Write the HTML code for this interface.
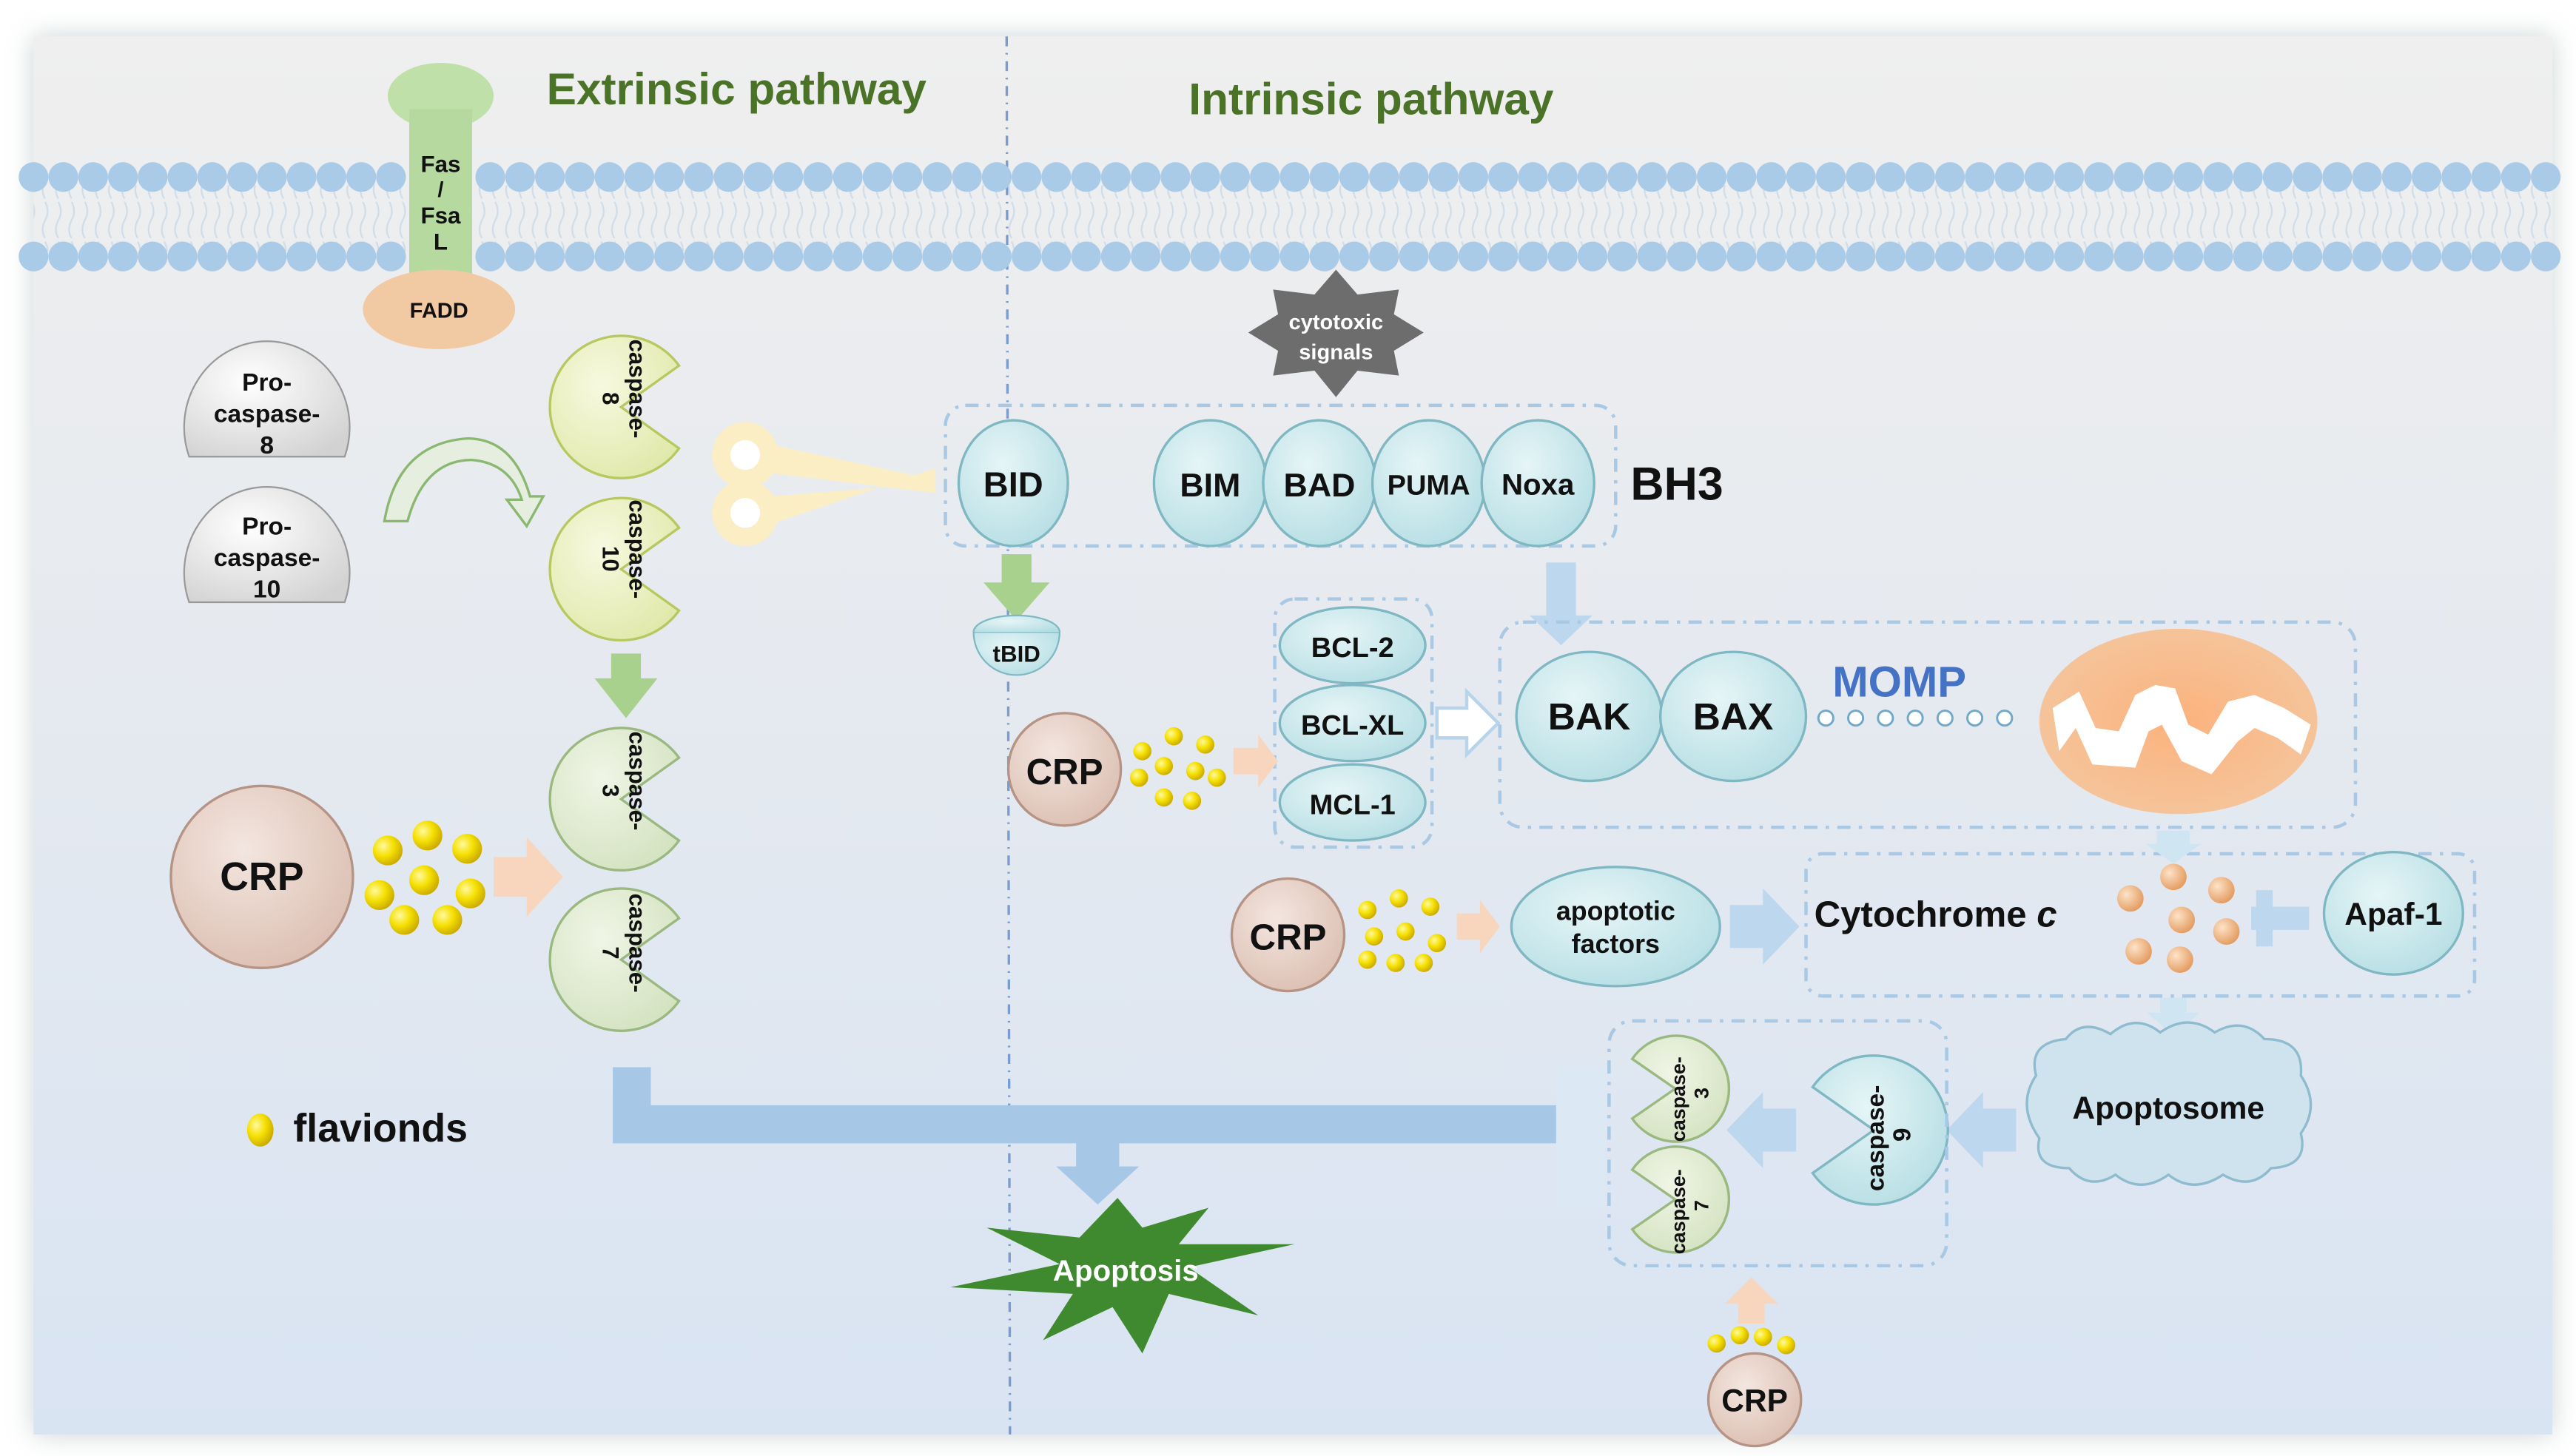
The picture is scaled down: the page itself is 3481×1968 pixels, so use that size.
<!DOCTYPE html>
<html><head><meta charset="utf-8"><style>
html,body{margin:0;padding:0;background:#fff;}
svg{display:block;}
text{font-family:"Liberation Sans",Arial,sans-serif;font-weight:bold;fill:#111;}
</style></head><body>
<svg width="3481" height="1968" viewBox="0 0 1556 880" xmlns="http://www.w3.org/2000/svg">
<defs>
<linearGradient id="bg" x1="0" y1="0" x2="0" y2="1"><stop offset="0" stop-color="#efefef"/><stop offset="0.35" stop-color="#e8ebef"/><stop offset="1" stop-color="#d9e4f3"/></linearGradient>
<filter id="sh" x="-5%" y="-5%" width="110%" height="110%"><feGaussianBlur stdDeviation="8"/></filter>
<radialGradient id="crp" cx="0.4" cy="0.35" r="0.7"><stop offset="0" stop-color="#f3e6e0"/><stop offset="1" stop-color="#dcbfb2"/></radialGradient>
<radialGradient id="yd" cx="0.35" cy="0.35" r="0.7"><stop offset="0" stop-color="#fff9a0"/><stop offset="0.5" stop-color="#f5e000"/><stop offset="1" stop-color="#c9a800"/></radialGradient>
<radialGradient id="od" cx="0.35" cy="0.35" r="0.7"><stop offset="0" stop-color="#fde3c8"/><stop offset="1" stop-color="#e39a5e"/></radialGradient>
<radialGradient id="tl" cx="0.4" cy="0.35" r="0.75"><stop offset="0" stop-color="#e6f5f7"/><stop offset="1" stop-color="#b3dde3"/></radialGradient>
<radialGradient id="mito" cx="0.5" cy="0.5" r="0.6"><stop offset="0" stop-color="#fbb27c"/><stop offset="1" stop-color="#f4c7a0"/></radialGradient>
<radialGradient id="gr" cx="0.4" cy="0.35" r="0.75"><stop offset="0" stop-color="#ffffff"/><stop offset="1" stop-color="#d2d2d2"/></radialGradient>
<radialGradient id="yg" cx="0.4" cy="0.35" r="0.75"><stop offset="0" stop-color="#f7f9e0"/><stop offset="1" stop-color="#dfe8a8"/></radialGradient>
<radialGradient id="lg" cx="0.4" cy="0.35" r="0.75"><stop offset="0" stop-color="#f0f5e6"/><stop offset="1" stop-color="#d2e2bf"/></radialGradient>
<pattern id="lip" width="8" height="48" patternUnits="userSpaceOnUse"><path d="M3 2 q3 6 0 11 q-3 6 0 11 M3 26 q3 6 0 11 q-3 6 0 11" stroke="#d0dde9" stroke-width="1" fill="none"/></pattern>
</defs>
<rect width="1556" height="880" fill="#fff"/>
<rect x="20" y="22" width="1522" height="845" fill="#9aa" opacity="0.5" filter="url(#sh)"/>
<rect x="20" y="22" width="1522" height="845" fill="url(#bg)"/>
<rect x="20" y="112" width="1522" height="40" fill="url(#lip)"/>
<text x="330" y="63" font-size="27" style="fill:#4b7328">Extrinsic pathway</text>
<text x="718" y="69" font-size="27" style="fill:#4b7328">Intrinsic pathway</text>
<line x1="608" y1="22" x2="610" y2="867" stroke="#7a9ccf" stroke-width="1.5" stroke-dasharray="6,4,1,4"/>
<ellipse cx="266" cy="58" rx="32" ry="20" fill="#bfe0a8"/>
<!-- procaspases -->
<path d="M114,276 A50 52 0 1 1 208,276 Z" fill="url(#gr)" stroke="#999"/>
<text x="161" y="236" font-size="15" text-anchor="middle">Pro-</text>
<text x="161" y="255" font-size="15" text-anchor="middle">caspase-</text>
<text x="161" y="274" font-size="15" text-anchor="middle">8</text>
<path d="M114,364 A50 52 0 1 1 208,364 Z" fill="url(#gr)" stroke="#999"/>
<text x="161" y="323" font-size="15" text-anchor="middle">Pro-</text>
<text x="161" y="342" font-size="15" text-anchor="middle">caspase-</text>
<text x="161" y="361" font-size="15" text-anchor="middle">10</text>
<path d="M232,315 L246,315 Q256,278 285,278 Q308,280 315,302 L306,302 L318,318 L328,300 L320,300 Q310,265 282,265 Q240,268 232,315 Z" fill="#e6eee0" stroke="#8ab870" stroke-width="1.5"/>
<g stroke="#b8c860" stroke-width="1.5">
<path d="M375,246 L410,221 A43 43 0 1 0 410,271 Z" fill="url(#yg)"/>
<path d="M375,344 L410,319 A43 43 0 1 0 410,369 Z" fill="url(#yg)"/>
</g>
<g stroke="#9ab880" stroke-width="1.5">
<path d="M375,483 L410,458 A43 43 0 1 0 410,508 Z" fill="url(#lg)"/>
<path d="M375,580 L410,555 A43 43 0 1 0 410,605 Z" fill="url(#lg)"/>
</g>
<g font-size="14">
<text transform="translate(380,205) rotate(90)">caspase-</text><text transform="translate(364,237) rotate(90)">8</text>
<text transform="translate(380,302) rotate(90)">caspase-</text><text transform="translate(364,330) rotate(90)">10</text>
<text transform="translate(380,442) rotate(90)">caspase-</text><text transform="translate(364,474) rotate(90)">3</text>
<text transform="translate(380,540) rotate(90)">caspase-</text><text transform="translate(364,572) rotate(90)">7</text>
</g>
<polygon points="369,395 387,395 387,410 397,410 378,434 359,410 369,410" fill="#a9d18e"/>
<g fill="#fbeec5">
<polygon points="462,268 565,290 565,298 466,286"/>
<polygon points="462,318 565,283 565,292 466,300"/>
<circle cx="450" cy="275" r="20"/><circle cx="450" cy="310" r="20"/>
</g>
<circle cx="450" cy="275" r="9" fill="#fff"/><circle cx="450" cy="310" r="9" fill="#fff"/>
<rect x="571" y="245" width="405" height="85" rx="12" fill="none" stroke="#a8c8e4" stroke-width="2" stroke-dasharray="8,5,2,5"/>
<g fill="url(#tl)" stroke="#7fb8c2" stroke-width="1.5">
<ellipse cx="612" cy="292" rx="33" ry="38"/>
<ellipse cx="731" cy="292" rx="34" ry="38"/>
<ellipse cx="797" cy="292" rx="34" ry="38"/>
<ellipse cx="863" cy="292" rx="34" ry="38"/>
<ellipse cx="929" cy="292" rx="34" ry="38"/>
</g>
<text x="612" y="300" font-size="21" text-anchor="middle">BID</text>
<text x="731" y="300" font-size="20" text-anchor="middle">BIM</text>
<text x="797" y="300" font-size="20" text-anchor="middle">BAD</text>
<text x="863" y="299" font-size="17" text-anchor="middle">PUMA</text>
<text x="929" y="299" font-size="18" text-anchor="middle">Noxa</text>
<text x="985" y="302" font-size="28">BH3</text>
<polygon points="807,163 820,178 845,175 842,190 860,201 842,212 845,227 820,224 807,240 794,224 769,227 772,212 754,201 772,190 769,175 794,178" fill="#6d6d6d"/>
<text x="807" y="199" font-size="13" text-anchor="middle" style="fill:#fff">cytotoxic</text>
<text x="807" y="217" font-size="13" text-anchor="middle" style="fill:#fff">signals</text>
<polygon points="605,335 623,335 623,352 634,352 614,375 594,352 605,352" fill="#a9d18e"/>
<path d="M588,382 L640,382 A26 26 0 0 1 588,382 Z" fill="url(#tl)" stroke="#7fb8c2"/>
<path d="M588,382 A26 10 0 0 1 640,382" fill="url(#tl)" stroke="#7fb8c2"/>
<text x="614" y="400" font-size="14" text-anchor="middle">tBID</text>
<rect x="770" y="362" width="95" height="150" rx="12" fill="none" stroke="#a8c8e4" stroke-width="2" stroke-dasharray="8,5,2,5"/>
<g fill="url(#tl)" stroke="#7fb8c2" stroke-width="1.5">
<ellipse cx="817" cy="390" rx="44" ry="23"/>
<ellipse cx="817" cy="437" rx="44" ry="23"/>
<ellipse cx="817" cy="485" rx="44" ry="23"/>
</g>
<text x="817" y="397" font-size="17" text-anchor="middle">BCL-2</text>
<text x="817" y="444" font-size="17" text-anchor="middle">BCL-XL</text>
<text x="817" y="492" font-size="17" text-anchor="middle">MCL-1</text>
<polygon points="868,428 886,428 886,418 905,437 886,456 886,446 868,446" fill="#fff" stroke="#b8d4ea" stroke-width="2"/>
<polygon points="934,340 952,340 952,372 962,372 943,390 924,372 934,372" fill="#bcd7ee"/>
<rect x="906" y="376" width="517" height="124" rx="14" fill="none" stroke="#a8c8e4" stroke-width="2" stroke-dasharray="8,5,2,5"/>
<g fill="url(#tl)" stroke="#7fb8c2" stroke-width="1.5">
<ellipse cx="960" cy="433" rx="44" ry="39"/>
<ellipse cx="1047" cy="433" rx="44" ry="39"/>
</g>
<text x="960" y="441" font-size="23" text-anchor="middle">BAK</text>
<text x="1047" y="441" font-size="23" text-anchor="middle">BAX</text>
<text x="1107" y="421" font-size="26" style="fill:#4472c4">MOMP</text>
<g fill="#fff" stroke="#6fa8c8" stroke-width="1.3">
<circle cx="1103" cy="434" r="4.5"/><circle cx="1121" cy="434" r="4.5"/><circle cx="1139" cy="434" r="4.5"/><circle cx="1157" cy="434" r="4.5"/><circle cx="1175" cy="434" r="4.5"/><circle cx="1193" cy="434" r="4.5"/><circle cx="1211" cy="434" r="4.5"/>
</g>
<ellipse cx="1316" cy="436" rx="84" ry="56" fill="url(#mito)"/>
<path d="M1240,428 L1256,418 L1266,440 L1280,442 L1290,420 L1302,414 L1314,416 L1322,438 L1334,444 L1346,424 L1362,420 L1380,428 L1396,438 L1390,456 L1376,446 L1362,440 L1352,448 L1336,468 L1318,460 L1306,438 L1298,442 L1290,464 L1264,462 L1254,440 L1244,454 Z" fill="#fff"/>
<polygon points="745,452 760,452 760,444 772,460 760,476 760,468 745,468" fill="#f7d6bd"/>
<circle cx="643" cy="465" r="34" fill="url(#crp)" stroke="#b59385" stroke-width="1.5"/>
<text x="643" y="474" font-size="22" text-anchor="middle">CRP</text>
<g fill="url(#yd)">
<circle cx="690" cy="454" r="5.5"/><circle cx="709" cy="445" r="5.5"/><circle cx="728" cy="450" r="5.5"/><circle cx="703" cy="463" r="5.5"/><circle cx="722" cy="466" r="5.5"/><circle cx="688" cy="470" r="5.5"/><circle cx="735" cy="470" r="5.5"/><circle cx="703" cy="482" r="5.5"/><circle cx="720" cy="484" r="5.5"/>
</g>
<circle cx="778" cy="565" r="34" fill="url(#crp)" stroke="#b59385" stroke-width="1.5"/>
<text x="778" y="574" font-size="22" text-anchor="middle">CRP</text>
<g fill="url(#yd)">
<circle cx="826" cy="550" r="5.5"/><circle cx="845" cy="543" r="5.5"/><circle cx="864" cy="548" r="5.5"/><circle cx="830" cy="566" r="5.5"/><circle cx="849" cy="563" r="5.5"/><circle cx="868" cy="570" r="5.5"/><circle cx="826" cy="580" r="5.5"/><circle cx="843" cy="582" r="5.5"/><circle cx="860" cy="582" r="5.5"/>
</g>
<polygon points="880,552 894,552 894,544 906,560 894,576 894,568 880,568" fill="#f7d6bd"/>
<ellipse cx="976" cy="560" rx="63" ry="36" fill="url(#tl)" stroke="#7fb8c2" stroke-width="1.5"/>
<text x="976" y="556" font-size="16" text-anchor="middle">apoptotic</text>
<text x="976" y="576" font-size="16" text-anchor="middle">factors</text>
<polygon points="1045,547 1065,547 1065,537 1087,560 1065,583 1065,573 1045,573" fill="#bcd7ee"/>
<rect x="1091" y="516" width="404" height="86" rx="10" fill="none" stroke="#a8c8e4" stroke-width="2" stroke-dasharray="8,5,2,5"/>
<text x="1096" y="560" font-size="22">Cytochrome <tspan font-style="italic">c</tspan></text>
<polygon points="1303,502 1323,502 1323,510 1330,510 1313,522 1296,510 1303,510" fill="#cfe5f2"/>
<g fill="url(#od)">
<circle cx="1313" cy="530" r="8"/><circle cx="1287" cy="543" r="8"/><circle cx="1342" cy="538" r="8"/><circle cx="1318" cy="556" r="8"/><circle cx="1345" cy="563" r="8"/><circle cx="1292" cy="575" r="8"/><circle cx="1317" cy="580" r="8"/>
</g>
<polygon points="1373,538 1363,538 1363,548 1360,548 1360,562 1363,562 1363,572 1373,572 1373,562 1395,562 1395,548 1373,548" fill="#bcd7ee"/>
<ellipse cx="1446" cy="552" rx="42" ry="37" fill="url(#tl)" stroke="#7fb8c2" stroke-width="1.5"/>
<text x="1446" y="559" font-size="19" text-anchor="middle">Apaf-1</text>
<polygon points="1305,603 1321,603 1321,612 1329,612 1313,626 1297,612 1305,612" fill="#cfe5f2"/>
<path d="M1230,650 Q1225,630 1248,628 Q1258,615 1275,625 Q1290,612 1305,624 Q1322,612 1338,624 Q1355,614 1368,628 Q1392,628 1390,650 Q1402,668 1390,685 Q1395,705 1372,706 Q1360,720 1343,710 Q1325,722 1310,710 Q1293,722 1278,710 Q1262,720 1250,706 Q1228,706 1232,688 Q1218,668 1230,650 Z" fill="#cfe3ef" stroke="#8ebcce" stroke-width="1.5"/>
<text x="1310" y="676" font-size="19" text-anchor="middle">Apoptosome</text>
<polygon points="1218,670 1198,670 1198,660 1176,683 1198,706 1198,696 1218,696" fill="#bcd7ee"/>
<path d="M1132,683 L1095,657 A45 45 0 1 1 1095,709 Z" fill="url(#tl)" stroke="#7fb8c2" stroke-width="1.5"/>
<text transform="translate(1138,720) rotate(-90)" font-size="15">caspase-</text>
<text transform="translate(1154,690) rotate(-90)" font-size="15">9</text>
<polygon points="1085,670 1065,670 1065,660 1043,683 1065,706 1065,696 1085,696" fill="#bcd7ee"/>
<rect x="972" y="617" width="204" height="148" rx="14" fill="none" stroke="#a8c8e4" stroke-width="2" stroke-dasharray="8,5,2,5"/>
<path d="M1012,658 L986,640 A32 32 0 1 1 986,676 Z" fill="url(#lg)" stroke="#9ab880" stroke-width="1.5"/>
<path d="M1012,725 L986,707 A32 32 0 1 1 986,743 Z" fill="url(#lg)" stroke="#9ab880" stroke-width="1.5"/>
<text transform="translate(1018,690) rotate(-90)" font-size="12">caspase-</text>
<text transform="translate(1032,664) rotate(-90)" font-size="12">3</text>
<text transform="translate(1018,758) rotate(-90)" font-size="12">caspase-</text>
<text transform="translate(1032,732) rotate(-90)" font-size="12">7</text>
<polygon points="1050,800 1066,800 1066,788 1074,788 1058,772 1042,788 1050,788" fill="#f7d6bd"/>
<g fill="url(#yd)">
<circle cx="1037" cy="812" r="5.5"/><circle cx="1051" cy="807" r="5.5"/><circle cx="1065" cy="808" r="5.5"/><circle cx="1079" cy="813" r="5.5"/>
</g>
<circle cx="1060" cy="846" r="28" fill="url(#crp)" stroke="#b59385" stroke-width="1.5"/>
<text x="1060" y="853" font-size="19" text-anchor="middle">CRP</text>
<rect x="940" y="645" width="30" height="85" fill="#dce8f4"/>
<path d="M370,645 L393,645 L393,668 L940,668 L940,691 L676,691 L676,705 L688,705 L663,728 L638,705 L650,705 L650,691 L370,691 Z" fill="#a7c7e7"/>
<polygon points="675,724 690,742 730,730 712,752 782,752 718,766 760,795 706,782 690,818 672,790 630,810 648,782 574,778 640,764 596,742 652,748" fill="#3f8a2e"/>
<text x="680" y="774" font-size="18" text-anchor="middle" style="fill:#fff">Apoptosis</text>
<circle cx="158" cy="530" r="55" fill="url(#crp)" stroke="#b59385" stroke-width="1.5"/>
<text x="158" y="538" font-size="24" text-anchor="middle">CRP</text>
<g fill="url(#yd)">
<circle cx="234" cy="514" r="9"/><circle cx="258" cy="505" r="9"/><circle cx="282" cy="513" r="9"/><circle cx="229" cy="541" r="9"/><circle cx="256" cy="532" r="9"/><circle cx="284" cy="540" r="9"/><circle cx="244" cy="556" r="9"/><circle cx="270" cy="556" r="9"/>
</g>
<polygon points="298,518 318,518 318,506 340,530 318,554 318,542 298,542" fill="#f7d6bd"/>
<ellipse cx="157" cy="683" rx="8" ry="10" fill="url(#yd)"/>
<text x="177" y="690" font-size="24">flavionds</text>
<g fill="#aacbe8">
<circle cx="20" cy="107" r="9"/><circle cx="38" cy="107" r="9"/><circle cx="56" cy="107" r="9"/><circle cx="74" cy="107" r="9"/><circle cx="92" cy="107" r="9"/><circle cx="110" cy="107" r="9"/><circle cx="128" cy="107" r="9"/><circle cx="146" cy="107" r="9"/><circle cx="164" cy="107" r="9"/><circle cx="182" cy="107" r="9"/><circle cx="200" cy="107" r="9"/><circle cx="218" cy="107" r="9"/><circle cx="236" cy="107" r="9"/>
<circle cx="296" cy="107" r="9"/><circle cx="314" cy="107" r="9"/><circle cx="332" cy="107" r="9"/><circle cx="350" cy="107" r="9"/><circle cx="368" cy="107" r="9"/><circle cx="386" cy="107" r="9"/><circle cx="404" cy="107" r="9"/><circle cx="422" cy="107" r="9"/><circle cx="440" cy="107" r="9"/><circle cx="458" cy="107" r="9"/><circle cx="476" cy="107" r="9"/><circle cx="494" cy="107" r="9"/><circle cx="512" cy="107" r="9"/><circle cx="530" cy="107" r="9"/><circle cx="548" cy="107" r="9"/><circle cx="566" cy="107" r="9"/><circle cx="584" cy="107" r="9"/><circle cx="602" cy="107" r="9"/><circle cx="620" cy="107" r="9"/><circle cx="638" cy="107" r="9"/><circle cx="656" cy="107" r="9"/><circle cx="674" cy="107" r="9"/><circle cx="692" cy="107" r="9"/><circle cx="710" cy="107" r="9"/><circle cx="728" cy="107" r="9"/><circle cx="746" cy="107" r="9"/><circle cx="764" cy="107" r="9"/><circle cx="782" cy="107" r="9"/><circle cx="800" cy="107" r="9"/><circle cx="818" cy="107" r="9"/><circle cx="836" cy="107" r="9"/><circle cx="854" cy="107" r="9"/><circle cx="872" cy="107" r="9"/><circle cx="890" cy="107" r="9"/><circle cx="908" cy="107" r="9"/><circle cx="926" cy="107" r="9"/><circle cx="944" cy="107" r="9"/><circle cx="962" cy="107" r="9"/><circle cx="980" cy="107" r="9"/><circle cx="998" cy="107" r="9"/><circle cx="1016" cy="107" r="9"/><circle cx="1034" cy="107" r="9"/><circle cx="1052" cy="107" r="9"/><circle cx="1070" cy="107" r="9"/><circle cx="1088" cy="107" r="9"/><circle cx="1106" cy="107" r="9"/><circle cx="1124" cy="107" r="9"/><circle cx="1142" cy="107" r="9"/><circle cx="1160" cy="107" r="9"/><circle cx="1178" cy="107" r="9"/><circle cx="1196" cy="107" r="9"/><circle cx="1214" cy="107" r="9"/><circle cx="1232" cy="107" r="9"/><circle cx="1250" cy="107" r="9"/><circle cx="1268" cy="107" r="9"/><circle cx="1286" cy="107" r="9"/><circle cx="1304" cy="107" r="9"/><circle cx="1322" cy="107" r="9"/><circle cx="1340" cy="107" r="9"/><circle cx="1358" cy="107" r="9"/><circle cx="1376" cy="107" r="9"/><circle cx="1394" cy="107" r="9"/><circle cx="1412" cy="107" r="9"/><circle cx="1430" cy="107" r="9"/><circle cx="1448" cy="107" r="9"/><circle cx="1466" cy="107" r="9"/><circle cx="1484" cy="107" r="9"/><circle cx="1502" cy="107" r="9"/><circle cx="1520" cy="107" r="9"/><circle cx="1538" cy="107" r="9"/>
<circle cx="20" cy="155" r="9"/><circle cx="38" cy="155" r="9"/><circle cx="56" cy="155" r="9"/><circle cx="74" cy="155" r="9"/><circle cx="92" cy="155" r="9"/><circle cx="110" cy="155" r="9"/><circle cx="128" cy="155" r="9"/><circle cx="146" cy="155" r="9"/><circle cx="164" cy="155" r="9"/><circle cx="182" cy="155" r="9"/><circle cx="200" cy="155" r="9"/><circle cx="218" cy="155" r="9"/><circle cx="236" cy="155" r="9"/>
<circle cx="296" cy="155" r="9"/><circle cx="314" cy="155" r="9"/><circle cx="332" cy="155" r="9"/><circle cx="350" cy="155" r="9"/><circle cx="368" cy="155" r="9"/><circle cx="386" cy="155" r="9"/><circle cx="404" cy="155" r="9"/><circle cx="422" cy="155" r="9"/><circle cx="440" cy="155" r="9"/><circle cx="458" cy="155" r="9"/><circle cx="476" cy="155" r="9"/><circle cx="494" cy="155" r="9"/><circle cx="512" cy="155" r="9"/><circle cx="530" cy="155" r="9"/><circle cx="548" cy="155" r="9"/><circle cx="566" cy="155" r="9"/><circle cx="584" cy="155" r="9"/><circle cx="602" cy="155" r="9"/><circle cx="620" cy="155" r="9"/><circle cx="638" cy="155" r="9"/><circle cx="656" cy="155" r="9"/><circle cx="674" cy="155" r="9"/><circle cx="692" cy="155" r="9"/><circle cx="710" cy="155" r="9"/><circle cx="728" cy="155" r="9"/><circle cx="746" cy="155" r="9"/><circle cx="764" cy="155" r="9"/><circle cx="782" cy="155" r="9"/><circle cx="800" cy="155" r="9"/><circle cx="818" cy="155" r="9"/><circle cx="836" cy="155" r="9"/><circle cx="854" cy="155" r="9"/><circle cx="872" cy="155" r="9"/><circle cx="890" cy="155" r="9"/><circle cx="908" cy="155" r="9"/><circle cx="926" cy="155" r="9"/><circle cx="944" cy="155" r="9"/><circle cx="962" cy="155" r="9"/><circle cx="980" cy="155" r="9"/><circle cx="998" cy="155" r="9"/><circle cx="1016" cy="155" r="9"/><circle cx="1034" cy="155" r="9"/><circle cx="1052" cy="155" r="9"/><circle cx="1070" cy="155" r="9"/><circle cx="1088" cy="155" r="9"/><circle cx="1106" cy="155" r="9"/><circle cx="1124" cy="155" r="9"/><circle cx="1142" cy="155" r="9"/><circle cx="1160" cy="155" r="9"/><circle cx="1178" cy="155" r="9"/><circle cx="1196" cy="155" r="9"/><circle cx="1214" cy="155" r="9"/><circle cx="1232" cy="155" r="9"/><circle cx="1250" cy="155" r="9"/><circle cx="1268" cy="155" r="9"/><circle cx="1286" cy="155" r="9"/><circle cx="1304" cy="155" r="9"/><circle cx="1322" cy="155" r="9"/><circle cx="1340" cy="155" r="9"/><circle cx="1358" cy="155" r="9"/><circle cx="1376" cy="155" r="9"/><circle cx="1394" cy="155" r="9"/><circle cx="1412" cy="155" r="9"/><circle cx="1430" cy="155" r="9"/><circle cx="1448" cy="155" r="9"/><circle cx="1466" cy="155" r="9"/><circle cx="1484" cy="155" r="9"/><circle cx="1502" cy="155" r="9"/><circle cx="1520" cy="155" r="9"/><circle cx="1538" cy="155" r="9"/>
</g>
<rect x="247" y="66" width="38" height="100" fill="#b6d9a0"/>
<text x="266" y="104" font-size="14" text-anchor="middle">Fas</text>
<text x="266" y="119" font-size="13" text-anchor="middle">/</text>
<text x="266" y="135" font-size="14" text-anchor="middle">Fsa</text>
<text x="266" y="151" font-size="14" text-anchor="middle">L</text>
<ellipse cx="265" cy="187" rx="46" ry="24" fill="#f1c9a3"/>
<text x="265" y="192" font-size="13" text-anchor="middle">FADD</text>
</svg>
</body></html>
